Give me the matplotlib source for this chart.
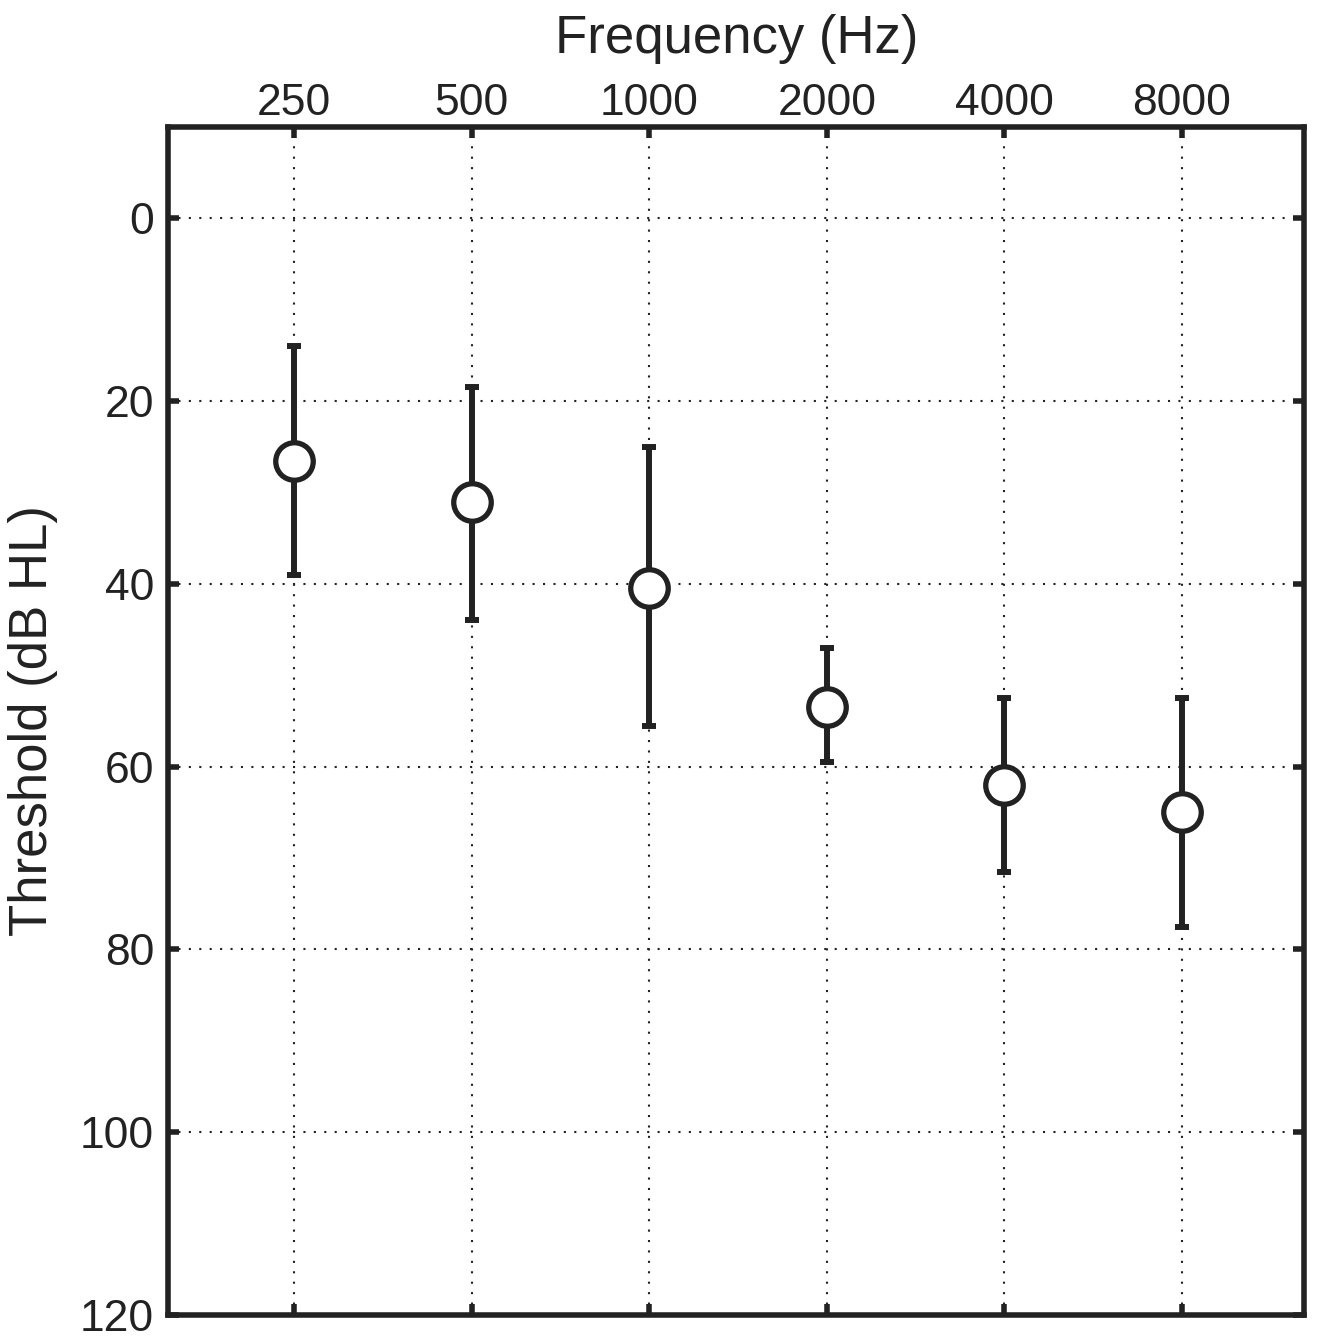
import matplotlib
matplotlib.use("Agg")
import matplotlib.pyplot as plt

# Audiogram data (dB HL)
freqs = [250, 500, 1000, 2000, 4000, 8000]
freq_labels = ["250", "500", "1000", "2000", "4000", "8000"]
mean_thr = [26.5, 31.0, 40.5, 53.5, 62.0, 65.0]
upper_thr = [14.0, 18.5, 25.0, 47.0, 52.5, 52.5]   # top of error bar
lower_thr = [39.0, 44.0, 55.5, 59.5, 71.5, 77.5]   # bottom of error bar
y_ticks = [0, 20, 40, 60, 80, 100, 120]

plt.rcParams['font.family'] = ['Liberation Sans', 'DejaVu Sans']
ink = "#222222"

fig = plt.figure(figsize=(13.23, 13.37), dpi=100)
ax = fig.add_axes([0.127, 0.0165, 0.859, 0.8885])

err_lo = [m - u for m, u in zip(mean_thr, upper_thr)]
err_hi = [l - m for m, l in zip(mean_thr, lower_thr)]

ax.errorbar(freqs, mean_thr, yerr=[err_lo, err_hi], fmt='none',
            ecolor=ink, elinewidth=4.3, capsize=5, capthick=4.3, zorder=3)
ax.plot(freqs, mean_thr, 'o', ms=27, mfc='white', mec=ink, mew=3.8,
        linestyle='none', zorder=4)

ax.set_xscale('log', base=2)
ax.set_xlim(250 / 2 ** 0.71, 8000 * 2 ** 0.69)
ax.set_ylim(120, -10)
ax.set_xticks(freqs)
ax.set_xticklabels(freq_labels)
ax.minorticks_off()
ax.set_yticks(y_ticks)

ax.xaxis.set_ticks_position('both')
ax.yaxis.set_ticks_position('both')
ax.tick_params(axis='both', direction='in', length=8, width=4, color=ink,
               labelsize=32, labelcolor=ink, pad=10)
ax.tick_params(axis='x', labeltop=True, labelbottom=False, pad=2)

ax.xaxis.set_label_position('top')
ax.set_xlabel("Frequency (Hz)", fontsize=38, color=ink, labelpad=22)
ax.set_ylabel("Threshold (dB HL)", fontsize=38, color=ink, labelpad=16)

ax.grid(True, color=ink, linestyle=(0, (1, 4)), linewidth=1.5)
for s in ax.spines.values():
    s.set_linewidth(4)
    s.set_color(ink)

fig.savefig("out.png", dpi=100)
